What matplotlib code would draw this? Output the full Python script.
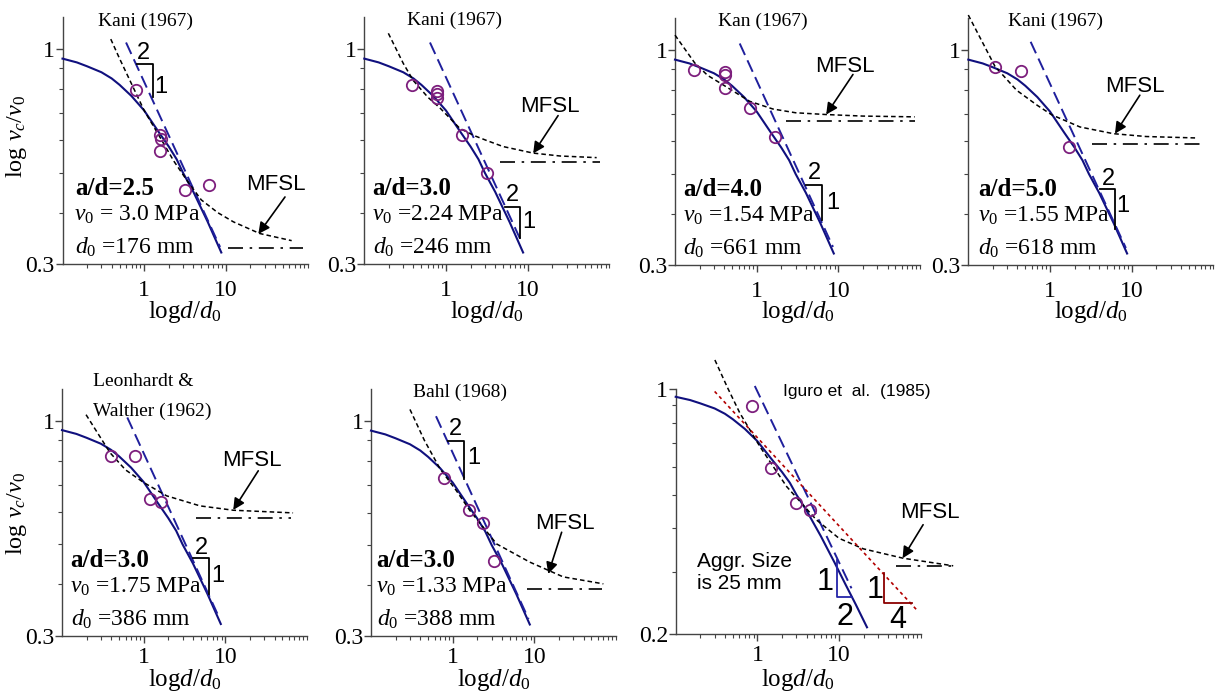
import matplotlib
matplotlib.use('Agg')
import matplotlib.pyplot as plt
from matplotlib.ticker import FixedLocator, FixedFormatter, NullFormatter

plt.rcParams['font.family'] = 'Liberation Serif'
plt.rcParams['mathtext.fontset'] = 'custom'
plt.rcParams['mathtext.rm'] = 'Liberation Serif'
plt.rcParams['mathtext.it'] = 'Liberation Serif:italic'
plt.rcParams['mathtext.bf'] = 'Liberation Serif:bold'

# ---------------------------------------------------------------- data
sources = ['Kani (1967)', 'Kani (1967)', 'Kan (1967)', 'Kani (1967)',
           'Leonhardt &\nWalther (1962)', 'Bahl (1968)', 'Iguro et  al.  (1985)']
ad_ratio = ['2.5', '3.0', '4.0', '5.0', '3.0', '3.0', None]
v0_text = ['= 3.0', '=2.24', '=1.54', '=1.55', '=1.75', '=1.33', None]
d0_text = ['=176', '=246', '=661', '=618', '=386', '=388', None]

# size effect law (solid line)
sel_x = [0.1, 0.15, 0.2, 0.3, 0.4, 0.5, 0.7, 1.0, 1.5, 2.0, 2.5, 3.0, 4.0, 6.0, 8.8, 12, 16, 22]
sel_y = [0.95, 0.93, 0.91, 0.88, 0.85, 0.82, 0.77, 0.71, 0.63, 0.58, 0.54, 0.50, 0.45, 0.38, 0.32, 0.277, 0.243, 0.209]
sel_end = [15, 15, 15, 15, 15, 15, 18]

# test points (circles)
test_x = [[0.80, 1.57, 1.60, 1.57, 3.18, 6.3],
          [0.38, 0.77, 0.77, 0.78, 1.56, 3.15],
          [0.171, 0.414, 0.414, 0.406, 0.82, 1.66],
          [0.212, 0.437, 1.72],
          [0.398, 0.78, 1.19, 1.61],
          [0.78, 1.6, 2.37, 3.2],
          [0.87, 1.45, 2.94, 4.38]]
test_y = [[0.796, 0.619, 0.606, 0.567, 0.455, 0.468],
          [0.821, 0.793, 0.777, 0.760, 0.619, 0.50],
          [0.896, 0.885, 0.870, 0.81, 0.725, 0.614],
          [0.91, 0.893, 0.582],
          [0.822, 0.822, 0.645, 0.633],
          [0.729, 0.609, 0.565, 0.458],
          [0.892, 0.594, 0.474, 0.452]]

# MFSL curves (short dashed)
mfsl_x = [[0.39, 0.5, 0.67, 1.0, 1.57, 2.3, 3.33, 5, 8, 12.4, 26, 64],
          [0.197, 0.3, 0.398, 0.6, 0.845, 1.48, 2.2, 3.15, 5, 11.7, 25, 70],
          [0.1, 0.174, 0.25, 0.406, 0.82, 1.58, 3, 7.1, 20, 86],
          [0.1, 0.212, 0.39, 0.7, 1.05, 2.33, 5.96, 15, 62.5],
          [0.197, 0.387, 0.6, 1.0, 1.91, 4.89, 12.5, 67.5],
          [0.30, 0.45, 0.70, 1.1, 1.63, 3.45, 8.83, 22.6, 70],
          [0.302, 0.43, 0.61, 1.07, 2.28, 5.3, 10, 19.8, 61, 250]]
mfsl_y = [[1.06, 0.95, 0.84, 0.71, 0.61, 0.535, 0.48, 0.43, 0.40, 0.38, 0.356, 0.342],
          [1.095, 0.925, 0.84, 0.765, 0.72, 0.642, 0.617, 0.60, 0.58, 0.559, 0.55, 0.545],
          [1.09, 0.933, 0.87, 0.82, 0.752, 0.72, 0.705, 0.698, 0.692, 0.689],
          [1.22, 0.915, 0.80, 0.735, 0.697, 0.651, 0.627, 0.617, 0.612],
          [1.036, 0.837, 0.76, 0.708, 0.657, 0.621, 0.606, 0.597],
          [1.07, 0.90, 0.767, 0.68, 0.606, 0.503, 0.454, 0.418, 0.402],
          [1.21, 1.01, 0.854, 0.686, 0.527, 0.423, 0.375, 0.35, 0.329, 0.313]]

# -1/2 asymptote (long dashed)
asym_x = [[0.60, 8.5], [0.637, 8.5], [0.62, 8.6], [0.58, 8.5], [0.63, 8.5], [0.625, 8.5], [0.93, 14.2]]
asym_y = [[1.04, 0.33], [1.04, 0.338], [1.04, 0.332], [1.05, 0.33], [1.02, 0.33], [1.03, 0.33], [1.02, 0.27]]

# MFSL horizontal asymptote (dash-dot)
floor_x = [[10.7, 88], [4.6, 76], [2.31, 86], [3.23, 71], [4.43, 64.5], [8.05, 66.5], [50.5, 240]]
floor_y = [0.328, 0.531, 0.672, 0.593, 0.579, 0.391, 0.313]

# -1/4 line (Iguro panel)
quarter_x = [0.30, 93]
quarter_y = [0.984, 0.232]

# MFSL label and arrow (start, end)
mfsl_lab = [(41.3, 0.47), (18.8, 0.727), (11.9, 0.915), (11, 0.816), (21, 0.80), (23.7, 0.565), (129, 0.444)]
arrow_from = [(53, 0.437), (23.6, 0.69), (15.1, 0.874), (12.6, 0.778), (25.3, 0.756), (21.6, 0.537), (107, 0.41)]
arrow_to = [(25, 0.355), (11.7, 0.558), (7.1, 0.698), (6.25, 0.627), (12.5, 0.607), (14.8, 0.425), (60, 0.329)]

# slope triangles "2 / 1"
tri_x = [[0.81, 1.28, 1.28], [5.27, 8.06, 8.06], [4.05, 6.37, 6.37], [4.09, 6.25, 6.25],
         [4.05, 6.36, 6.36], [0.884, 1.375, 1.375]]
tri_y = [[0.92, 0.92, 0.764], [0.414, 0.414, 0.347], [0.471, 0.471, 0.386], [0.459, 0.459, 0.367],
         [0.464, 0.464, 0.379], [0.898, 0.898, 0.725]]
tri_two = [(0.98, 0.98), (6.56, 0.441), (5.13, 0.503), (5.18, 0.486), (5.12, 0.49), (1.07, 0.958)]
tri_one = [(1.61, 0.81), (10.2, 0.379), (8.6, 0.426), (7.9, 0.418), (8.2, 0.42), (1.79, 0.815)]
# Iguro panel triangles
blue_tri_x = [9.33, 9.33, 14.6]
blue_tri_y = [0.325, 0.255, 0.255]
red_tri_x = [35.7, 35.7, 77.4]
red_tri_y = [0.298, 0.245, 0.245]

# ---------------------------------------------------------------- layout (pixels)
W, H = 1218.0, 691.0
axes_px = [(62.5, 264, 245, 247), (364.3, 264, 245, 247), (675, 265, 245, 247),
           (968.3, 265, 245, 247), (62, 635.5, 245, 247), (371, 636, 245, 247),
           (675.7, 634, 245, 245)]
text_x = [0.051, 0.034, 0.034, 0.041, 0.035, 0.023]
title_pos = [(0.337, 0.984), (0.37, 0.985), (0.36, 0.985), (0.354, 0.985),
             (0.125, 1.0275), (0.363, 0.987), (0.739, 0.989)]

NAVY = '#10107e'
DBLUE = '#1f1f9c'
PURPLE = '#7d1f7d'
SANS = 'Liberation Sans'

fig = plt.figure(figsize=(12.18, 6.91), dpi=100)
minor_x = [0.2, 0.3, 0.4, 0.5, 0.6, 0.7, 0.8, 0.9, 2, 3, 4, 5, 6, 7, 8, 9,
           20, 30, 40, 50, 60, 70, 80, 90, 100]

for i in range(7):
    l, b, w, h = axes_px[i]
    ax = fig.add_axes([l / W, 1 - b / H, w / W, h / H])
    ax.set_xscale('log')
    ax.set_yscale('log')
    ax.set_xlim(0.1, 100)
    ylo, yhi = (0.2, 1.0) if i == 6 else (0.3, 1.2)
    ax.set_ylim(ylo, yhi)
    for s in ['top', 'right']:
        ax.spines[s].set_visible(False)
    for s in ['left', 'bottom']:
        ax.spines[s].set_color('#444444')
        ax.spines[s].set_linewidth(1.0)

    ax.xaxis.set_major_locator(FixedLocator([1, 10]))
    ax.xaxis.set_major_formatter(FixedFormatter(['1', '10']))
    ax.xaxis.set_minor_locator(FixedLocator(minor_x))
    ax.xaxis.set_minor_formatter(NullFormatter())
    ax.yaxis.set_major_locator(FixedLocator([ylo, 1]))
    ax.yaxis.set_major_formatter(FixedFormatter(['0.2' if i == 6 else '0.3', '1']))
    ymin = [0.3, 0.4, 0.5, 0.6, 0.7, 0.8, 0.9] if i == 6 else [0.4, 0.5, 0.6, 0.7, 0.8, 0.9]
    ax.yaxis.set_minor_locator(FixedLocator(ymin))
    ax.yaxis.set_minor_formatter(NullFormatter())
    xpad = 6.5 if i < 4 else 3.0
    ax.tick_params(axis='x', which='major', length=5, width=1, color='#444444', labelsize=17, pad=xpad)
    ax.tick_params(axis='x', which='minor', length=3, width=0.8, color='#444444')
    ax.tick_params(axis='y', which='major', length=5, width=1, color='#444444', labelsize=17, pad=0.5)
    ax.tick_params(axis='y', which='minor', length=3, width=0.8, color='#444444')

    # curves
    n = sel_end[i]
    ax.plot(sel_x[:n], sel_y[:n], color=NAVY, lw=1.5, clip_on=False, zorder=3)
    ax.plot(asym_x[i], asym_y[i], color=DBLUE, lw=1.4, dashes=(6.5, 3), clip_on=False, zorder=3)
    ax.plot(mfsl_x[i], mfsl_y[i], color='black', lw=1.1, dashes=(3, 2), clip_on=False, zorder=3)
    ax.plot(floor_x[i], [floor_y[i]] * 2, color='black', lw=1.2, dashes=(9, 4, 1.5, 4),
            clip_on=False, zorder=3)
    ax.plot(test_x[i], test_y[i], 'o', ms=8.2, mfc='none', mec=PURPLE, mew=1.3,
            clip_on=False, zorder=4)

    # MFSL label
    ax.text(mfsl_lab[i][0], mfsl_lab[i][1], 'MFSL', family=SANS, fontsize=16,
            ha='center', va='center', clip_on=False)
    ax.annotate('', xy=arrow_to[i], xytext=arrow_from[i], annotation_clip=False,
                arrowprops=dict(arrowstyle='-|>', color='black', lw=1.2,
                                mutation_scale=17, shrinkA=0, shrinkB=0))

    # title
    tx, ty = title_pos[i]
    if i == 6:
        ax.text(tx, ty, sources[i], transform=ax.transAxes, family=SANS, fontsize=12.5,
                ha='center', va='center')
    else:
        lines = sources[i].split('\n')
        for k, line in enumerate(lines):
            ax.text(tx, ty - k * 30.0 / h, line, transform=ax.transAxes, fontsize=14,
                    ha='left' if len(lines) > 1 else 'center', va='center')

    if i < 6:
        ax.plot(tri_x[i], tri_y[i], color='black', lw=1.3, clip_on=False, zorder=5)
        ax.text(tri_two[i][0], tri_two[i][1], '2', family=SANS, fontsize=17,
                ha='center', va='center')
        ax.text(tri_one[i][0], tri_one[i][1], '1', family=SANS, fontsize=17,
                ha='center', va='center')
        x0 = text_x[i]
        ax.text(x0, 0.305, 'a/d=' + ad_ratio[i], transform=ax.transAxes, fontsize=18,
                fontweight='bold', ha='left', va='center')
        ax.text(x0 - 0.003, 0.198, r'$v_0$ ' + v0_text[i] + ' MPa', transform=ax.transAxes,
                fontsize=17, ha='left', va='center')
        ax.text(x0, 0.066, r'$d_0$ ' + d0_text[i] + ' mm', transform=ax.transAxes,
                fontsize=17, ha='left', va='center')
    else:
        ax.plot(quarter_x, quarter_y, color='#b30000', lw=1.2, dashes=(2, 2),
                clip_on=False, zorder=3)
        ax.plot(blue_tri_x, blue_tri_y, color='#2424a8', lw=1.3, clip_on=False, zorder=5)
        ax.plot(red_tri_x, red_tri_y, color='#8b0000', lw=1.3, clip_on=False, zorder=5)
        ax.text(6.7, 0.282, '1', family=SANS, fontsize=22, ha='center', va='center')
        ax.text(11.8, 0.224, '2', family=SANS, fontsize=22, ha='center', va='center')
        ax.text(27.3, 0.267, '1', family=SANS, fontsize=22, ha='center', va='center')
        ax.text(52.7, 0.219, '4', family=SANS, fontsize=22, ha='center', va='center')
        ax.text(0.086, 0.25, 'Aggr. Size\nis 25 mm', transform=ax.transAxes, family=SANS,
                fontsize=15, ha='left', va='center', linespacing=1.2)

    # x label
    xl_y = 311.7 if i < 4 else 680
    fig.text((l + w / 2) / W, 1 - xl_y / H, r'log$d/d_\mathit{0}$', fontsize=18,
             ha='center', va='center')

# y labels
for yc in [136.7, 513.3]:
    fig.text(16.7 / W, 1 - yc / H, r'log $v_c/v_\mathit{0}$', fontsize=17.5, rotation=90,
             ha='center', va='center')

fig.savefig('out.png', dpi=100)
